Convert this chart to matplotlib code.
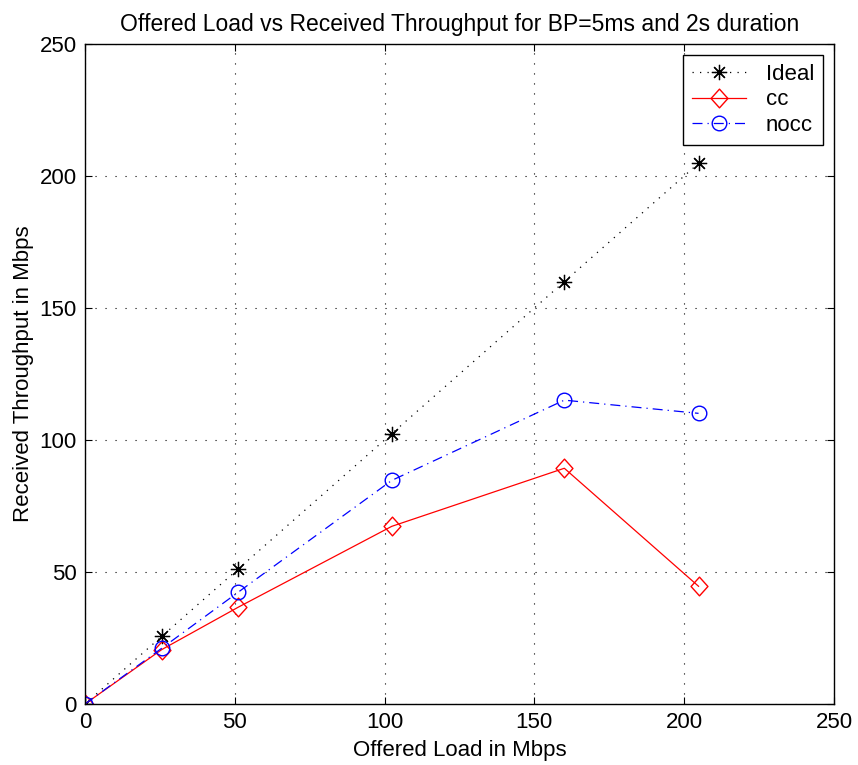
import matplotlib
matplotlib.use("Agg")
import matplotlib.pyplot as plt
from matplotlib.path import Path

plt.rcParams['font.family'] = ['Liberation Sans', 'DejaVu Sans']

offered = [0, 25.6, 51.2, 102.4, 160, 204.8]
ideal = [0, 25.6, 51.2, 102.4, 160, 204.8]
cc = [0, 20.6, 36.7, 67.3, 89.3, 44.6]
nocc = [0, 21.1, 42.4, 84.7, 115.1, 110.1]

# matlab diamond is a bit taller than wide
diamond = Path([(0, 1), (0.9, 0), (0, -1), (-0.9, 0), (0, 1)],
               [Path.MOVETO, Path.LINETO, Path.LINETO, Path.LINETO, Path.CLOSEPOLY])

fig = plt.figure(figsize=(8.58, 7.65), dpi=100)
ax = fig.add_axes([0.099, 0.0797, 0.873, 0.8628])

ax.plot(offered, ideal, color='k', linestyle=(0, (1, 5)), marker=(8, 2, 0),
        markersize=11, markeredgewidth=0.9, linewidth=0.9, label='Ideal')
ax.plot(offered, cc, '-', color='r', marker=diamond, markersize=13.5,
        markerfacecolor='none', markeredgewidth=1.0, linewidth=0.9, label='cc')
ax.plot(offered, nocc, color='b', linestyle=(0, (8, 4, 1, 4)), marker='o', markersize=10.5,
        markerfacecolor='none', markeredgewidth=1.0, linewidth=0.9, label='nocc')

ax.set_xlim(0, 250)
ax.set_ylim(0, 250)
ax.set_xticks([0, 50, 100, 150, 200, 250])
ax.set_yticks([0, 50, 100, 150, 200, 250])
ax.grid(True, linestyle=(0, (1, 8)), color='k', linewidth=0.8)
ax.tick_params(direction='in', labelsize=16, length=5, pad=6, top=True, right=True)
for s in ax.spines.values():
    s.set_linewidth(1.0)

ax.set_title('Offered Load vs Received Throughput for BP=5ms and 2s duration',
             fontsize=16.5, pad=9)
ax.set_xlabel('Offered Load in Mbps', fontsize=16, labelpad=5)
ax.set_ylabel('Received Throughput in Mbps', fontsize=16, labelpad=4)

leg = ax.legend(loc='upper right', fontsize=16, fancybox=False, framealpha=1,
                edgecolor='k', handlelength=2.4, handletextpad=0.9,
                labelspacing=0.2, borderpad=0.4, borderaxespad=0.5)
leg.get_frame().set_linewidth(1.0)

fig.savefig('out.png', dpi=100)
